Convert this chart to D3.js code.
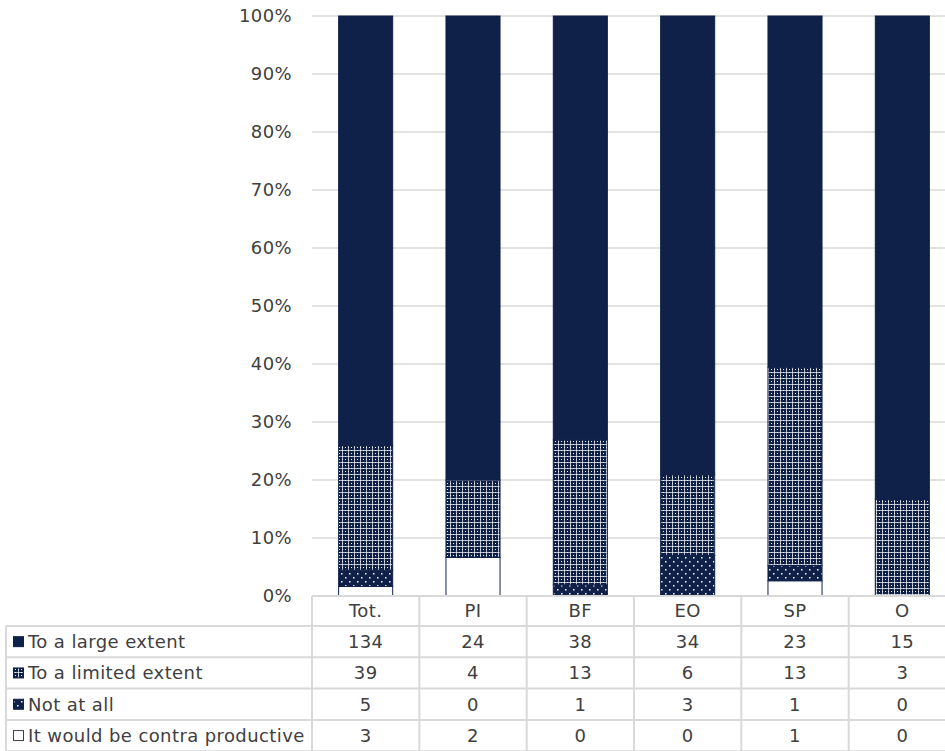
<!DOCTYPE html>
<html>
<head>
<meta charset="utf-8">
<script src="https://cdn.jsdelivr.net/npm/d3@7"></script>
<style>
  html, body { margin: 0; padding: 0; background: #fff; }
  svg { display: block; }
  text { font-family: "DejaVu Sans", Verdana, sans-serif; fill: #404040; letter-spacing: 0.4px; }
</style>
</head>
<body>
<svg id="chart" width="945" height="751"></svg>
<script>
// Answer groups and counts per respondent category
const categories = ["Tot.", "PI", "BF", "EO", "SP", "O"];
const seriesNames = ["To a large extent", "To a limited extent", "Not at all", "It would be contra productive"];
const largeExtent   = [134, 24, 38, 34, 23, 15];
const limitedExtent = [39, 4, 13, 6, 13, 3];
const notAtAll      = [5, 0, 1, 3, 1, 0];
const contraProd    = [3, 2, 0, 0, 1, 0];
const yTicks = [0, 0.1, 0.2, 0.3, 0.4, 0.5, 0.6, 0.7, 0.8, 0.9, 1.0];

const seriesValues = [largeExtent, limitedExtent, notAtAll, contraProd];
const keys = ["large", "limited", "none", "contra"];

const rows = categories.map((c, i) => ({
  cat: c,
  large: largeExtent[i],
  limited: limitedExtent[i],
  none: notAtAll[i],
  contra: contraProd[i]
}));

const NAVY = "#0f2148";
const GRID = "#d9d9d9";
const FONT = "18px";

const svg = d3.select("#chart");
const defs = svg.append("defs");

// Lattice fill for "To a limited extent": light grid lines with white nodes around navy crosses
const pLim = defs.append("pattern").attr("id", "pat-limited")
  .attr("patternUnits", "userSpaceOnUse").attr("width", 6).attr("height", 6);
pLim.append("rect").attr("width", 6).attr("height", 6).attr("fill", NAVY);
pLim.append("rect").attr("x", 0).attr("y", 0).attr("width", 6).attr("height", 1).attr("fill", "#aeb5c5");
pLim.append("rect").attr("x", 0).attr("y", 0).attr("width", 1).attr("height", 6).attr("fill", "#aeb5c5");
[[0, 0], [3, 0], [0, 3], [3, 3]].forEach(([px, py]) => {
  pLim.append("rect").attr("x", px).attr("y", py).attr("width", 1).attr("height", 1).attr("fill", "#f2f3f6");
});

// Sparse dot fill for "Not at all"
const pNone = defs.append("pattern").attr("id", "pat-none")
  .attr("patternUnits", "userSpaceOnUse").attr("width", 8).attr("height", 8);
pNone.append("rect").attr("width", 8).attr("height", 8).attr("fill", NAVY);
pNone.append("rect").attr("x", 1).attr("y", 1).attr("width", 1.5).attr("height", 1.5).attr("fill", "#ffffff");
pNone.append("rect").attr("x", 5).attr("y", 5).attr("width", 1.5).attr("height", 1.5).attr("fill", "#ffffff");

const fills = { large: NAVY, limited: "url(#pat-limited)", none: "url(#pat-none)", contra: "#ffffff" };

// Plot geometry
const plotLeft = 312, plotRight = 956, plotTop = 16, plotBottom = 596;
const x = d3.scaleBand().domain(categories).range([plotLeft, plotRight])
  .paddingInner(0.487).paddingOuter(0.2435);
const y = d3.scaleLinear().domain([0, 1]).range([plotBottom, plotTop]);

// Gridlines
svg.append("g").selectAll("line").data(yTicks.filter(t => t > 0)).join("line")
  .attr("x1", plotLeft).attr("x2", 945)
  .attr("y1", d => y(d)).attr("y2", d => y(d))
  .attr("stroke", GRID).attr("stroke-width", 1.5);

// Y axis labels
const yAxis = d3.axisLeft(y).tickValues(yTicks).tickFormat(d3.format(".0%")).tickSize(0).tickPadding(0);
const gy = svg.append("g").attr("transform", `translate(292,0)`).call(yAxis);
gy.select(".domain").remove();
gy.selectAll("text").attr("font-size", FONT).attr("fill", "#404040")
  .style("font-family", "'DejaVu Sans', Verdana, sans-serif");

// Stacked 100% bars (bottom to top: contra, none, limited, large)
const stack = d3.stack().keys(["contra", "none", "limited", "large"]).offset(d3.stackOffsetExpand);
const stacked = stack(rows);

svg.append("g").selectAll("g").data(stacked).join("g")
  .attr("fill", d => fills[d.key])
  .selectAll("rect").data(d => d.filter(s => s[1] - s[0] > 0)).join("rect")
  .attr("x", d => x(d.data.cat) + 0.5)
  .attr("width", x.bandwidth() - 1)
  .attr("y", d => y(d[1]))
  .attr("height", d => y(d[0]) - y(d[1]))
  .attr("stroke", NAVY).attr("stroke-width", 1);

// Data table below the axis
const step = x.step();
const rowH = 31.3;
const headTop = plotBottom, headBot = plotBottom + 30;
const tableLeft = 6;
const rowTops = d3.range(4).map(i => headBot + i * rowH);
const tableBottom = headBot + 4 * rowH;

const tg = svg.append("g");
// horizontal lines
tg.append("line").attr("x1", plotLeft).attr("x2", 945).attr("y1", headTop).attr("y2", headTop)
  .attr("stroke", GRID).attr("stroke-width", 2);
rowTops.concat([tableBottom]).forEach(yy => {
  tg.append("line").attr("x1", tableLeft).attr("x2", 945).attr("y1", yy).attr("y2", yy)
    .attr("stroke", GRID).attr("stroke-width", 2);
});
// vertical lines
tg.append("line").attr("x1", tableLeft).attr("x2", tableLeft).attr("y1", headBot).attr("y2", tableBottom)
  .attr("stroke", GRID).attr("stroke-width", 2);
categories.forEach((c, i) => {
  const xx = plotLeft + i * step;
  tg.append("line").attr("x1", xx).attr("x2", xx).attr("y1", headTop).attr("y2", tableBottom)
    .attr("stroke", GRID).attr("stroke-width", 2);
});

// header labels
tg.selectAll("text.cat").data(categories).join("text").attr("class", "cat")
  .attr("x", d => x(d) + x.bandwidth() / 2)
  .attr("y", (headTop + headBot) / 2)
  .attr("dy", "0.35em").attr("text-anchor", "middle").attr("font-size", FONT)
  .text(d => d);

// rows: legend key + name + values
seriesNames.forEach((name, r) => {
  const cy = rowTops[r] + rowH / 2;
  const key = keys[r];
  tg.append("rect").attr("x", 13.5).attr("y", cy - 5).attr("width", 10).attr("height", 10)
    .attr("fill", fills[key]).attr("stroke", key === "contra" ? "#404040" : NAVY).attr("stroke-width", 1);
  tg.append("text").attr("x", 28).attr("y", cy).attr("dy", "0.35em")
    .attr("font-size", FONT).text(name);
  tg.selectAll(null).data(seriesValues[r]).join("text")
    .attr("x", (d, i) => x(categories[i]) + x.bandwidth() / 2)
    .attr("y", cy).attr("dy", "0.35em").attr("text-anchor", "middle")
    .attr("font-size", FONT).text(d => d);
});
</script>
</body>
</html>
